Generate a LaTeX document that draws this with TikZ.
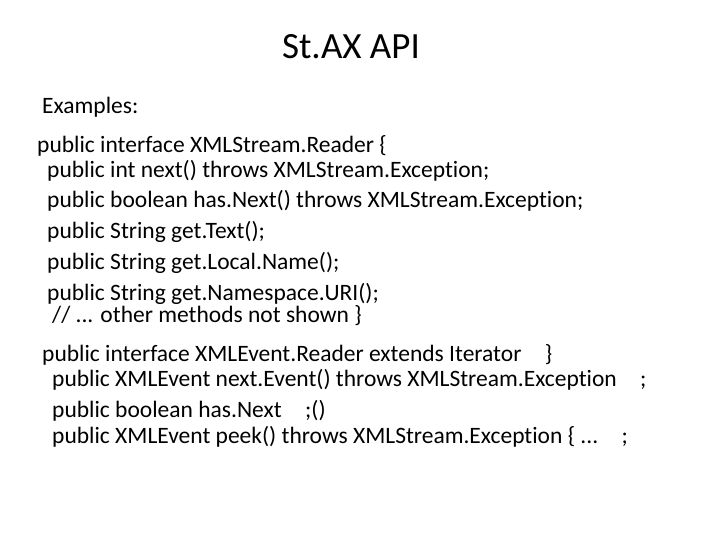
\documentclass[tikz,border=0pt]{standalone}
\usepackage{fontspec}
\setmainfont[RawFeature=-liga]{Carlito}
\begin{document}
\begin{tikzpicture}[x=1pt,y=1pt,yscale=-1,
  codeline/.style={anchor=west,inner sep=0pt,font=\fontsize{23.5}{28}\selectfont}]
% canvas
\useasboundingbox (0,0) rectangle (720,540);
% Title
\node (title) at (351,47) [inner sep=0pt,font=\fontsize{37}{42}\selectfont] {St.AX API};
% Text
\node (ex) at (42,107) [codeline] {Examples:};
\node (r0) at (37,146) [codeline] {public interface XMLStream.Reader \{};
\node (r1) at (47,171) [codeline] {public int next() throws XMLStream.Exception;};
\node (r2) at (47,201) [codeline] {public boolean has.Next() throws XMLStream.Exception;};
\node (r3) at (47,232) [codeline] {public String get.Text();};
\node (r4) at (47,263) [codeline] {public String get.Local.Name();};
\node (r5) at (47,294) [codeline] {public String get.Namespace.URI();};
\node (r6) at (52,316) [codeline] {// ... other methods not shown \}};
\node (e0) at (42,355) [codeline] {public interface XMLEvent.Reader extends Iterator\quad\}};
\node (e1) at (52,380) [codeline] {public XMLEvent next.Event() throws XMLStream.Exception\quad;};
\node (e2) at (52,411) [codeline] {public boolean has.Next\quad;()};
\node (e3) at (52,437) [codeline] {public XMLEvent peek() throws XMLStream.Exception \{ ...\quad;};
\end{tikzpicture}
\end{document}
